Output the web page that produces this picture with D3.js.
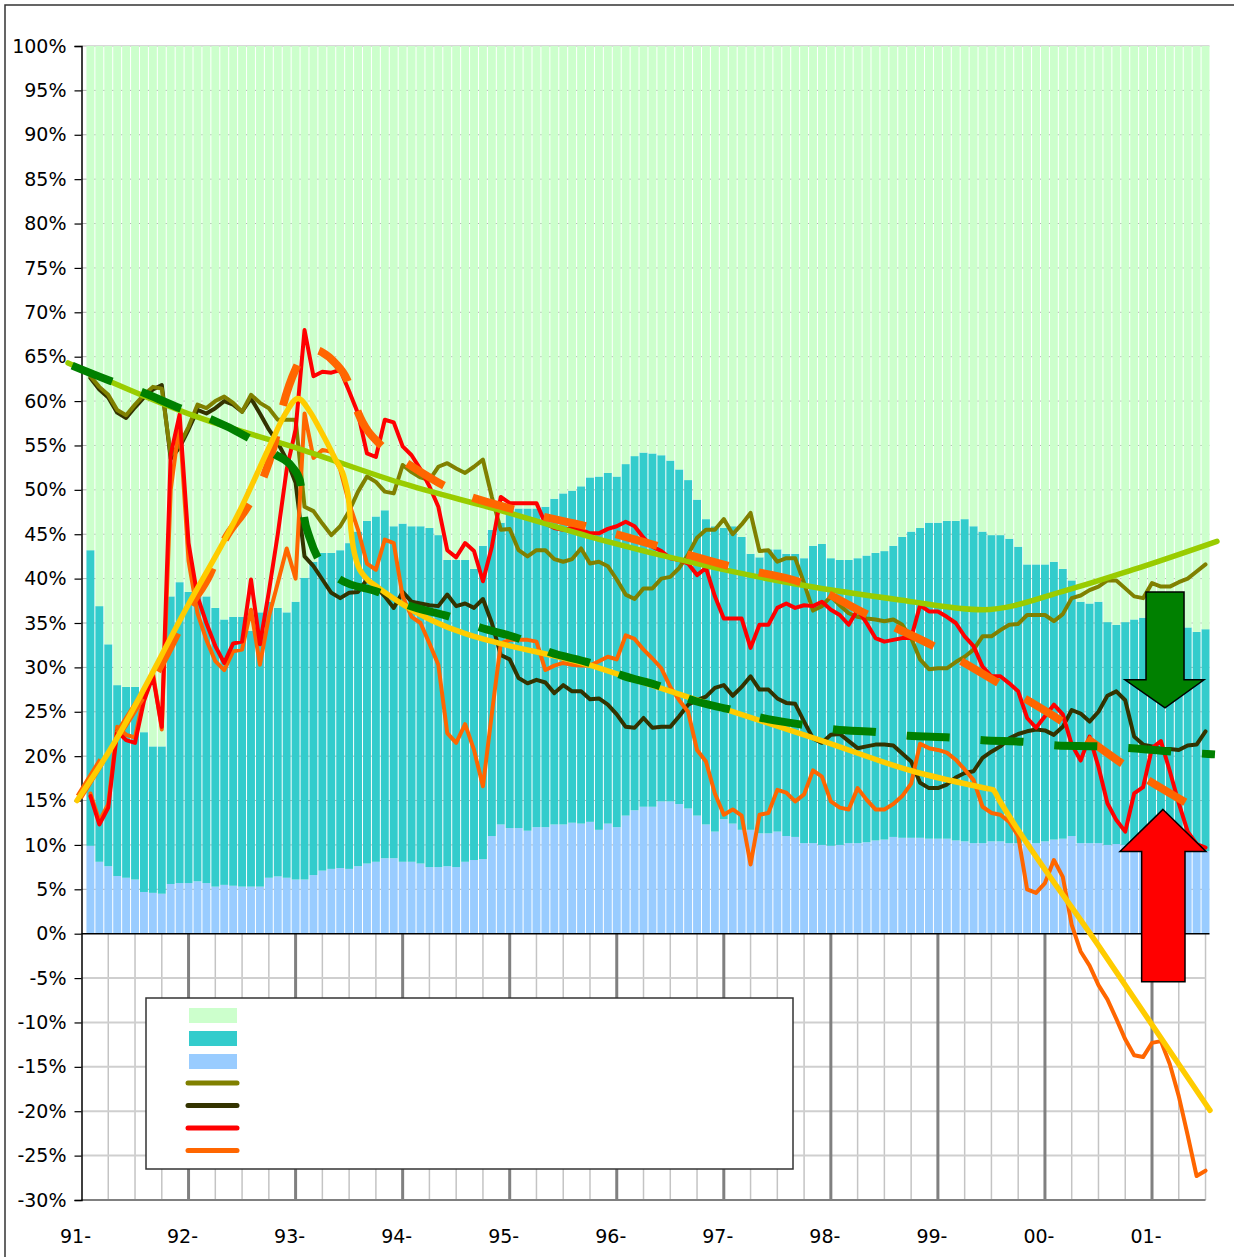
<!DOCTYPE html>
<html><head><meta charset="utf-8">
<script src="https://cdn.jsdelivr.net/npm/d3@7"></script>
<style>body{margin:0;background:#fff}svg{display:block}</style>
</head><body>
<svg id="chart" width="1234" height="1257"></svg>
<script>
// ---------- DATA ----------
const yearLabels = ["91-","92-","93-","94-","95-","96-","97-","98-","99-","00-","01-"];
const yearMonths = [0,12,24,36,48,60,72,84,96,108,120];
const yTickValues = [100,95,90,85,80,75,70,65,60,55,50,45,40,35,30,25,20,15,10,5,0,-5,-10,-15,-20,-25,-30];
const yTickLabels = ["100%","95%","90%","85%","80%","75%","70%","65%","60%","55%","50%","45%","40%","35%","30%","25%","20%","15%","10%","5%","0%","-5%","-10%","-15%","-20%","-25%","-30%"];

// monthly bars (Jan 91 .. Jun 01): lower share and cumulative top of middle share
const shareLow = [9.9,8.1,7.6,6.5,6.3,6.1,4.7,4.6,4.5,5.6,5.7,5.7,5.9,5.7,5.3,5.5,5.4,5.3,5.3,5.3,6.3,6.45,6.3,6.1,6.1,6.6,7.1,7.3,7.4,7.3,7.6,7.9,8.1,8.5,8.5,8.1,8.1,7.9,7.5,7.5,7.6,7.5,8.1,8.3,8.4,11.0,12.3,11.9,11.9,11.6,12.0,12.0,12.3,12.3,12.5,12.4,12.6,11.7,12.4,12.0,13.3,13.9,14.3,14.3,14.9,14.9,14.6,14.1,13.3,12.3,11.5,12.9,12.4,11.7,11.7,11.3,11.3,11.5,11.0,10.9,10.2,10.2,10.0,9.9,10.0,10.2,10.2,10.3,10.5,10.6,10.9,10.8,10.8,10.8,10.7,10.7,10.7,10.5,10.4,10.2,10.2,10.4,10.4,10.2,10.2,10.5,10.2,10.4,10.6,10.7,11.0,10.2,10.2,10.2,10.0,10.1,10.0,9.8,9.8,9.9,9.7,9.6,9.5,9.4,9.4,9.3];
const shareMidTop = [43.2,36.9,32.6,28.0,27.8,27.8,22.7,21.1,21.1,38.0,39.6,38.5,38.0,38.0,36.7,35.4,35.7,35.7,34.1,36.2,37.4,36.7,36.2,37.4,40.1,41.9,42.9,42.9,43.2,44.0,45.3,46.5,47.0,47.7,45.9,46.2,45.9,45.9,45.7,44.9,42.1,42.1,42.1,41.1,43.7,45.5,46.3,47.9,47.9,47.9,47.9,48.1,49.0,49.6,49.9,50.4,51.4,51.5,51.9,51.5,52.9,53.8,54.2,54.1,53.9,53.3,52.3,51.1,48.9,46.7,45.9,45.7,45.9,44.7,42.8,42.4,43.3,43.3,42.8,42.8,42.3,43.7,43.9,42.3,42.1,42.1,42.3,42.6,42.9,43.1,43.7,44.7,45.3,45.7,46.3,46.3,46.5,46.5,46.7,45.9,45.3,44.9,44.9,44.5,43.6,41.6,41.6,41.6,41.9,41.1,39.8,37.4,37.2,37.4,35.1,34.8,35.1,35.4,35.6,35.3,35.5,35.2,34.8,34.5,34.0,34.3];

// monthly lines
const seriesOlive = [62.8,61.6,60.7,59.0,58.4,59.6,60.7,61.6,61.4,53.9,55.1,57.1,59.6,59.2,60.0,60.5,59.8,58.8,60.7,59.8,59.2,57.9,57.9,57.9,48.1,47.6,46.2,44.9,45.9,47.6,49.8,51.5,50.9,49.8,49.6,52.8,52.0,51.4,51.1,52.6,53.0,52.4,51.9,52.6,53.4,49.2,45.5,45.6,43.2,42.5,43.2,43.2,42.2,41.9,42.2,43.4,41.7,41.9,41.4,39.9,38.2,37.7,38.9,38.9,40.0,40.2,41.2,42.7,44.6,45.5,45.5,46.7,45.0,46.1,47.4,43.1,43.2,41.9,42.3,42.3,39.5,36.4,36.9,38.0,37.0,36.1,35.7,35.5,35.4,35.2,35.4,34.8,33.3,30.9,29.8,29.9,29.9,30.6,31.2,32.0,33.5,33.5,34.2,34.8,34.9,35.9,35.9,35.9,35.2,36.0,37.8,38.1,38.7,39.1,39.8,39.8,38.9,38.0,37.8,39.5,39.1,39.1,39.6,40.0,40.8,41.6];
const seriesDark = [62.6,61.3,60.4,58.7,58.1,59.3,60.4,61.3,61.8,53.5,54.8,56.8,59.0,58.6,59.2,60.0,59.6,58.8,60.3,58.6,56.8,55.3,53.4,50.8,42.5,41.4,39.9,38.4,37.8,38.4,38.5,39.9,39.1,38.0,36.7,38.5,37.4,37.2,37.0,36.9,38.2,36.9,37.2,36.7,37.7,35.0,31.4,30.9,28.8,28.2,28.6,28.3,27.1,28.0,27.3,27.3,26.4,26.5,25.8,24.7,23.3,23.2,24.3,23.2,23.3,23.3,24.5,25.8,26.3,26.7,27.7,28.0,26.8,27.8,29.0,27.5,27.5,26.5,26.0,25.9,23.9,22.0,21.5,22.4,22.5,21.7,20.9,21.1,21.3,21.3,21.2,20.3,19.4,17.0,16.4,16.4,16.8,17.6,18.1,18.3,19.8,20.5,21.1,22.0,22.5,22.8,23.0,22.9,22.4,23.3,25.2,24.8,23.9,25.0,26.8,27.3,26.3,22.2,21.3,21.1,20.8,20.8,20.7,21.2,21.3,22.8];
const seriesRed = [15.5,12.3,14.2,22.8,21.8,21.5,26.2,29.0,23.3,54.0,58.5,44.0,38.0,35.0,32.4,30.5,32.7,32.9,39.9,32.6,38.5,45.0,52.3,56.8,68.0,62.8,63.3,63.2,63.5,61.1,58.6,54.1,53.7,57.9,57.6,54.9,53.9,52.3,50.4,48.1,43.2,42.4,44.0,43.1,39.7,43.6,49.2,48.5,48.5,48.5,48.5,46.2,45.7,45.5,45.7,45.5,45.1,45.1,45.6,45.9,46.4,45.9,44.6,43.6,43.1,42.3,42.1,41.7,40.4,41.2,38.0,35.5,35.5,35.5,32.2,34.8,34.8,36.7,37.2,36.7,37.0,36.9,37.4,36.5,35.9,34.8,36.5,35.0,33.3,32.9,33.1,33.3,33.3,37.0,36.3,36.3,35.7,35.0,33.5,32.4,30.1,29.0,29.0,28.2,27.3,24.3,23.2,24.5,25.8,24.7,21.3,19.5,22.2,18.8,14.7,12.8,11.5,15.8,16.5,20.9,21.7,18.3,14.7,11.5,10.1,9.7];
const seriesOrange = [15.8,12.7,14.6,23.3,22.4,22.1,26.8,29.5,23.0,50.0,57.5,42.0,36.1,33.1,30.7,29.7,31.8,32.0,36.5,30.3,35.7,39.5,43.4,40.0,58.6,53.6,54.5,54.3,52.3,48.5,45.5,41.7,41.0,44.4,44.0,38.0,35.7,35.0,32.7,30.3,22.6,21.5,23.6,20.7,16.6,24.8,32.7,33.1,33.1,33.1,32.9,29.7,30.2,30.5,30.3,30.2,30.2,30.7,31.2,30.9,33.6,33.2,32.0,31.0,29.9,27.8,26.3,25.0,20.7,19.4,15.8,13.4,14.0,13.3,7.8,13.4,13.6,16.2,15.9,14.9,15.7,18.4,17.7,14.9,14.2,14.0,16.4,15.1,14.0,14.0,14.6,15.5,16.9,21.4,20.9,20.7,20.4,19.6,18.5,17.3,14.3,13.6,13.4,12.6,11.0,5.0,4.6,5.7,8.3,6.4,1.0,-2.0,-3.6,-5.8,-7.4,-9.6,-11.9,-13.7,-13.9,-12.3,-12.1,-14.7,-18.3,-22.7,-27.3,-26.7];

// drawn trend curves (month index from Jan 91, percent)
const trendGreenM = [-1.51,13.28,24.49,35.70,46.91,58.12,69.33,80.54,91.75,101.06,110.47,117.87,127.28];
const trendGreenV = [64.3,58.1,54.6,50.8,47.7,44.4,41.6,39.3,37.6,36.5,38.7,41.0,44.2];
const trendYellowM = [-0.50,3.19,11.83,17.77,21.13,22.81,24.27,25.61,26.74,28.42,29.54,29.99,30.21,30.88,31.78,33.12,35.70,58.12,82.78,93.21,101.50,102.18,102.90,114.17,126.50];
const trendYellowV = [15.0,20.7,36.8,47.7,55.0,58.5,60.3,58.8,56.8,53.5,51.0,48.5,45.5,41.8,40.2,39.1,37.3,29.9,21.8,18.3,16.35,16.2,15.0,-1.6,-19.9];
const trendOrangeM = [-0.50,3.19,10.48,11.94,14.40,15.86,18.55,20.24,21.58,22.59,24.04,25.50,26.96,28.42,29.77,30.88,33.80,36.49,40.97,48.82,57.00,64.85,73.03,80.88,88.61,95.90,103.18,110.25,117.20,124.26];
const trendOrangeV = [15.0,21.0,33.3,36.4,40.5,44.0,48.0,51.0,55.0,59.5,63.7,65.9,65.5,64.3,62.4,59.0,54.8,53.0,50.3,47.7,45.8,43.6,41.3,39.5,35.7,32.2,28.0,23.7,18.8,14.5];
const trendDarkGreenM = [-1.29,3.19,6.56,11.04,14.40,18.66,21.69,23.60,24.49,24.94,25.61,26.51,28.98,33.24,36.60,41.31,44.67,49.16,52.52,57.00,60.59,65.07,68.21,72.92,76.28,81.10,84.47,89.29,92.65,97.47,101.06,105.76,109.35,114.17,117.76,122.35,127.06];
const trendDarkGreenV = [64.1,62.3,61.1,59.2,58.0,55.9,54.0,52.6,51.0,47.0,44.5,42.3,39.9,38.5,37.0,35.7,34.5,33.2,31.7,30.5,29.1,27.8,26.4,25.2,24.3,23.5,23.0,22.7,22.3,22.1,21.8,21.6,21.2,21.1,20.9,20.5,20.2];

// annotation arrows (month index, percent)
const arrowDownM = [119.33,123.59,123.59,125.83,121.46,116.97,119.33];
const arrowDownV = [38.5,38.5,28.6,28.6,25.45,28.6,28.6];
const arrowUpM = [121.23,126.05,123.70,123.70,118.84,118.84,116.41];
const arrowUpV = [14.0,9.26,9.26,-5.4,-5.4,9.26,9.26];

// ---------- SCALES ----------
const svg = d3.select("#chart");
const x = d3.scaleLinear().domain([0,132]).range([81.5, 81.5 + 11*107.05]);
const y = d3.scaleLinear().domain([-30,100]).range([1200, 46]);
const nBars = shareLow.length;
const step = x(1) - x(0);
const barW = step - 1;
const FONT = "DejaVu Sans, Verdana, sans-serif";

// outer frame
svg.append("rect").attr("x",5).attr("y",5).attr("width",1245).attr("height",1265)
  .attr("fill","none").attr("stroke","#333").attr("stroke-width",1.5);

// ---------- NEGATIVE-REGION GRID ----------
const gGrid = svg.append("g");
const quarterMonths = d3.range(3, 127, 3).filter(m => m % 12 !== 0);
gGrid.selectAll("line.q").data(quarterMonths).join("line")
  .attr("x1",d=>x(d)).attr("x2",d=>x(d)).attr("y1",y(0)).attr("y2",y(-30))
  .attr("stroke","#c4c4c4").attr("stroke-width",1.5);
gGrid.selectAll("line.h").data(yTickValues.filter(v=>v<0 && v>-30)).join("line")
  .attr("x1",x(0)).attr("x2",x(126)).attr("y1",d=>y(d)).attr("y2",d=>y(d))
  .attr("stroke","#cfcfcf").attr("stroke-width",2);
gGrid.selectAll("line.yr").data(yearMonths.slice(1)).join("line")
  .attr("x1",d=>x(d)).attr("x2",d=>x(d)).attr("y1",y(0)).attr("y2",y(-30))
  .attr("stroke","#808080").attr("stroke-width",3);
gGrid.append("line").attr("x1",x(0)).attr("x2",x(126)).attr("y1",y(-30)).attr("y2",y(-30))
  .attr("stroke","#808080").attr("stroke-width",2);

// positive-region gridlines (visible in gaps between bars)
svg.append("g").selectAll("line").data(yTickValues.filter(v=>v>0)).join("line")
  .attr("x1",x(0)).attr("x2",x(nBars)+barW/2).attr("y1",d=>y(d)).attr("y2",d=>y(d))
  .attr("stroke","#b0b0b0").attr("stroke-width",1);

// ---------- STACKED BARS ----------
const table = shareLow.map((v,i)=>({i, low:v, mid:shareMidTop[i]-v, high:100-shareMidTop[i]}));
const stack = d3.stack().keys(["low","mid","high"])(table);
const barColors = {low:"#99ccff", mid:"#33cccc", high:"#ccffcc"};
svg.append("g").selectAll("g").data(stack).join("g")
  .attr("fill",d=>barColors[d.key])
  .selectAll("rect").data(d=>d).join("rect")
  .attr("x",d=>x(d.data.i+1)-barW/2).attr("width",barW)
  .attr("y",d=>y(d[1])).attr("height",d=>y(d[0])-y(d[1]));

// ---------- AXES ----------
svg.append("line").attr("x1",x(0)).attr("x2",x(nBars)+barW/2).attr("y1",y(0)).attr("y2",y(0))
  .attr("stroke","#000").attr("stroke-width",1.5);
const yAxis = d3.axisLeft(y).tickValues(yTickValues).tickSize(7).tickPadding(8)
  .tickFormat((d,i)=>yTickLabels[i]);
const gy = svg.append("g").attr("transform",`translate(${x(0)},0)`).call(yAxis);
gy.select(".domain").attr("stroke","#000").attr("stroke-width",1.5);
gy.selectAll(".tick line").attr("stroke","#000").attr("stroke-width",1.2);
gy.selectAll("text").attr("font-family",FONT).attr("font-size",19).attr("fill","#000");

svg.append("g").selectAll("text").data(yearMonths).join("text")
  .attr("x",d=>x(d)-6).attr("y",1243).attr("text-anchor","middle")
  .attr("font-family",FONT).attr("font-size",19).attr("fill","#000")
  .text((d,i)=>yearLabels[i]);

// ---------- MONTHLY LINES ----------
const lineGen = d3.line().x((d,i)=>x(i+1)).y(d=>y(d));
[[seriesDark,"#333300"],[seriesOlive,"#808000"],[seriesOrange,"#ff6600"],[seriesRed,"#ff0000"]]
.forEach(([s,c])=>{
  svg.append("path").datum(s).attr("d",lineGen).attr("fill","none")
    .attr("stroke",c).attr("stroke-width",4).attr("stroke-linejoin","round").attr("stroke-linecap","round");
});

// ---------- TREND CURVES ----------
const trendGen = d3.line().x(d=>x(d[0])).y(d=>y(d[1])).curve(d3.curveMonotoneX);
const zip = (a,b)=>a.map((v,i)=>[v,b[i]]);
function alignDash(path, targetX, period){
  const node = path.node(); const L = node.getTotalLength();
  let lo=0, hi=L;
  for(let k=0;k<40;k++){ const mid=(lo+hi)/2; if(node.getPointAtLength(mid).x < targetX) lo=mid; else hi=mid; }
  path.attr("stroke-dashoffset", (period - (lo % period)) % period);
}
svg.append("path").datum(zip(trendGreenM,trendGreenV)).attr("d",trendGen)
  .attr("fill","none").attr("stroke","#99cc00").attr("stroke-width",5.5).attr("stroke-linecap","round");
const pOr = svg.append("path").datum(zip(trendOrangeM,trendOrangeV)).attr("d",trendGen)
  .attr("fill","none").attr("stroke","#ff6600").attr("stroke-width",8).attr("stroke-dasharray","43,31");
alignDash(pOr, x(36.49), 74);
svg.append("path").datum(zip(trendYellowM,trendYellowV)).attr("d",trendGen)
  .attr("fill","none").attr("stroke","#ffcc00").attr("stroke-width",5.5).attr("stroke-linecap","round").attr("stroke-linejoin","round");
const pDg = svg.append("path").datum(zip(trendDarkGreenM,trendDarkGreenV)).attr("d",trendGen)
  .attr("fill","none").attr("stroke","#008000").attr("stroke-width",8).attr("stroke-dasharray","43,31");
alignDash(pDg, x(36.60), 74);

// ---------- ARROWS ----------
const poly = (ms,vs)=>ms.map((m,i)=>[x(m),y(vs[i])].join(",")).join(" ");
svg.append("polygon").attr("points",poly(arrowDownM,arrowDownV))
  .attr("fill","#008000").attr("stroke","#000").attr("stroke-width",1.5);
svg.append("polygon").attr("points",poly(arrowUpM,arrowUpV))
  .attr("fill","#ff0000").attr("stroke","#000").attr("stroke-width",1.5);

// ---------- LEGEND ----------
const lg = svg.append("g");
lg.append("rect").attr("x",146).attr("y",998).attr("width",647).attr("height",171)
  .attr("fill","#fff").attr("stroke","#333").attr("stroke-width",1.5);
const legendFills = ["#ccffcc","#33cccc","#99ccff"];
lg.selectAll("rect.sw").data(legendFills).join("rect")
  .attr("x",189).attr("y",(d,i)=>1008+i*23).attr("width",48).attr("height",15).attr("fill",d=>d);
const legendLines = ["#808000","#333300","#ff0000","#ff6600"];
lg.selectAll("line.sw").data(legendLines).join("line")
  .attr("x1",188).attr("x2",237).attr("y1",(d,i)=>1083+i*22.5).attr("y2",(d,i)=>1083+i*22.5)
  .attr("stroke",d=>d).attr("stroke-width",5).attr("stroke-linecap","round");
</script>
</body></html>
